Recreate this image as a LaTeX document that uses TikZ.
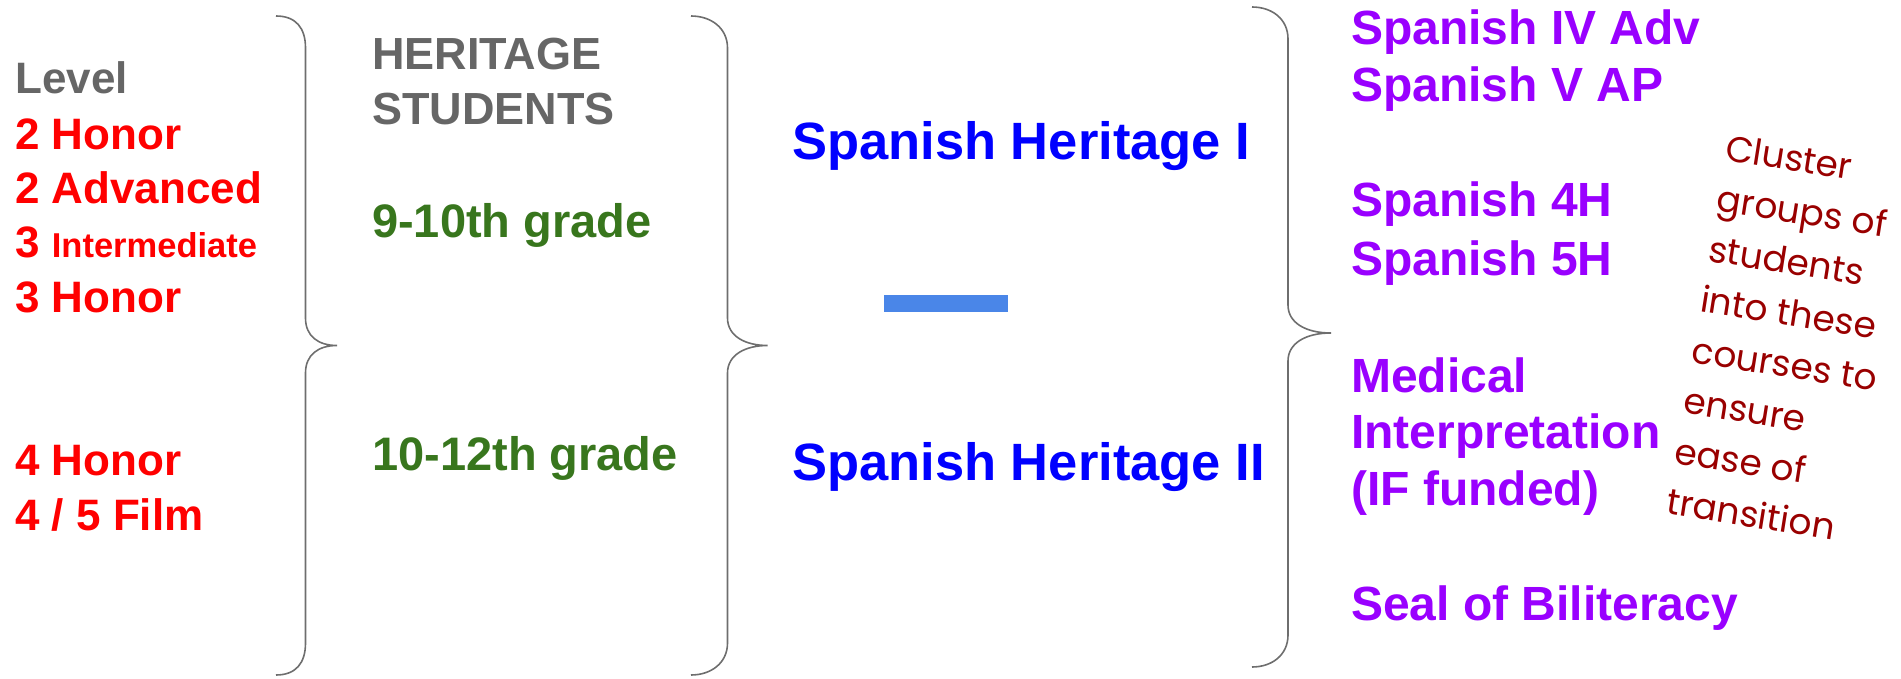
\documentclass[tikz,border=0pt]{standalone}
\usepackage{fontspec}
\setmainfont{Liberation Sans}
\newfontfamily\notefont{Poppins}
\usepackage{tikz}

\definecolor{lvlred}{HTML}{FF0000}
\definecolor{headgray}{HTML}{666666}
\definecolor{gradegreen}{HTML}{38761D}
\definecolor{herblue}{HTML}{0000FF}
\definecolor{coursepurple}{HTML}{9900FF}
\definecolor{notered}{HTML}{990000}
\definecolor{bracegray}{HTML}{6E6E6E}
\definecolor{barblue}{HTML}{4A86E8}

\tikzset{
  txt/.style={anchor=base west, inner sep=0pt},
  level/.style={txt, text=lvlred, font=\bfseries\fontsize{44}{44}\selectfont},
  head/.style={txt, text=headgray, font=\bfseries\fontsize{45}{45}\selectfont},
  grade/.style={txt, text=gradegreen, font=\bfseries\fontsize{47}{47}\selectfont},
  heritage/.style={txt, text=herblue, font=\bfseries\fontsize{52.5}{52.5}\selectfont},
  course/.style={txt, text=coursepurple, font=\bfseries\fontsize{48}{48}\selectfont},
  note/.style={txt, text=notered, rotate=-9, font=\notefont\fontsize{36}{36}\selectfont},
  bracepath/.style={draw=bracegray, line width=1.6pt}
}

\begin{document}
\begin{tikzpicture}[x=1pt,y=-1pt]
\useasboundingbox (0,0) rectangle (1901,679);

% levels
\node[level, text=headgray] (lvl) at (15,94) {Level};
\node[level] (l1) at (15,150) {2 Honor};
\node[level] (l2) at (15,204) {2 Advanced};
\node[level] (l3) at (15,258) {3 {\fontsize{34.5}{34.5}\selectfont Intermediate}};
\node[level] (l4) at (15,312) {3 Honor};
\node[level] (l5) at (15,475) {4 Honor};
\node[level] (l6) at (15,530) {4 / 5 Film};

% first brace
\draw[bracepath] (276,16) .. controls (296,16) and (305.5,28) .. (305.5,48) -- (305.5,318)
  .. controls (305.5,336) and (318,345.5) .. (337,345.5)
  .. controls (318,345.5) and (305.5,355) .. (305.5,373) -- (305.5,643)
  .. controls (305.5,663) and (296,675) .. (276,675);

% heritage students
\node[head] (h1) at (372,70) {HERITAGE};
\node[head] (h2) at (372,125) {STUDENTS};
\node[grade] (g1) at (372,238) {9-10th grade};
\node[grade] (g2) at (372,470) {10-12th grade};

% second brace
\draw[bracepath] (691,16) .. controls (711,16) and (727.5,28) .. (727.5,48) -- (727.5,318)
  .. controls (727.5,336) and (745,345.5) .. (767.5,345.5)
  .. controls (745,345.5) and (727.5,355) .. (727.5,373) -- (727.5,643)
  .. controls (727.5,663) and (711,675) .. (691,675);

% heritage courses
\node[heritage] (sh1) at (792,160) {Spanish Heritage I};
\node[heritage] (sh2) at (792,480) {Spanish Heritage II};
\fill[barblue] (884,295) rectangle (1008,312);

% third brace
\draw[bracepath] (1252,7) .. controls (1272,7) and (1288,19) .. (1288,39) -- (1288,305)
  .. controls (1288,323) and (1306,333) .. (1331,333)
  .. controls (1306,333) and (1288,343) .. (1288,361) -- (1288,635)
  .. controls (1288,655) and (1272,667) .. (1252,667);

% courses after
\node[course] (c1) at (1351,45) {Spanish IV Adv};
\node[course] (c2) at (1351,102) {Spanish V AP};
\node[course] (c3) at (1351,217) {Spanish 4H};
\node[course] (c4) at (1351,275) {Spanish 5H};
\node[course] (c5) at (1351,392) {Medical};
\node[course] (c6) at (1351,448) {Interpretation};
\node[course] (c7) at (1351,505) {(IF funded)};
\node[course] (c8) at (1351,620) {Seal of Biliteracy};

% side note
\foreach \line [count=\i from 0] in {Cluster, groups of, students, into these, courses to, ensure, ease of, transition}
  \node[note] (n\i) at ({1724-8.4*\i},{160+50.5*\i}) {\line};
\end{tikzpicture}
\end{document}
